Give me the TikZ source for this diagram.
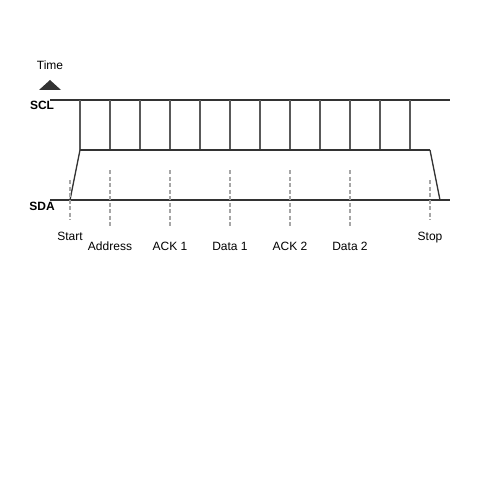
\documentclass[tikz,border=0pt]{standalone}
\usepackage{fontspec}
\setmainfont{Liberation Sans}
\usetikzlibrary{positioning}
\begin{document}
\begin{tikzpicture}[
  x=1pt,y=-1pt,
  every node/.style={inner sep=0pt,font=\fontsize{12}{14}\selectfont},
  wire/.style={draw=black!80,line width=1.6pt},
  tick/.style={draw=black!65,line width=1.3pt},
  marker/.style={draw=black!35,dash pattern=on 4pt off 2.5pt,line width=1.3pt},
  signal/.style={anchor=base,font=\fontsize{12}{14}\selectfont\bfseries},
  phase/.style={anchor=base}
  ]
  \useasboundingbox (0,0) rectangle (500,500);
  % time marker
  \node [anchor=base] (time) at (50,70) {Time};
  \fill [black!80] (50,80) -- (61,90) -- (39,90) -- cycle;
  % clock line
  \node [signal] (scl) at (42,110) {SCL};
  \coordinate (scl-w) at (50,100);
  \coordinate (scl-e) at (450,100);
  \draw [wire] (scl-w) -- (scl-e);
  \foreach \i in {0,...,11} {
    \coordinate (top\i) at (80+30*\i,100);
    \coordinate (bot\i) at (80+30*\i,150);
    \draw [tick] (top\i) -- (bot\i);
  }
  \coordinate (hi-e) at (430,150);
  \draw [wire] (bot0) -- (hi-e);
  % data line
  \node [signal] (sda) at (42,210) {SDA};
  \coordinate (sda-w) at (50,200);
  \coordinate (sda-e) at (450,200);
  \coordinate (fall) at (70,200);
  \coordinate (rise) at (440,200);
  \draw [wire] (sda-w) -- (sda-e);
  \draw [wire,line width=1.3pt] (bot0) -- (fall);
  \draw [wire,line width=1.3pt] (hi-e) -- (rise);
  % phases
  \foreach \x/\name/\txt in {110/addr/Address,170/ack1/ACK 1,230/data1/Data 1,
                             290/ack2/ACK 2,350/data2/Data 2} {
    \coordinate (\name-t) at (\x,170);
    \coordinate (\name-b) at (\x,228);
    \draw [marker] (\name-t) -- (\name-b);
    \node [phase] (\name) at (\x,250) {\txt};
  }
  \foreach \x/\name/\txt in {70/start/Start,430/stop/Stop} {
    \coordinate (\name-t) at (\x,180);
    \coordinate (\name-b) at (\x,220);
    \draw [marker] (\name-t) -- (\name-b);
    \node [phase] (\name) at (\x,240) {\txt};
  }
\end{tikzpicture}
\end{document}
